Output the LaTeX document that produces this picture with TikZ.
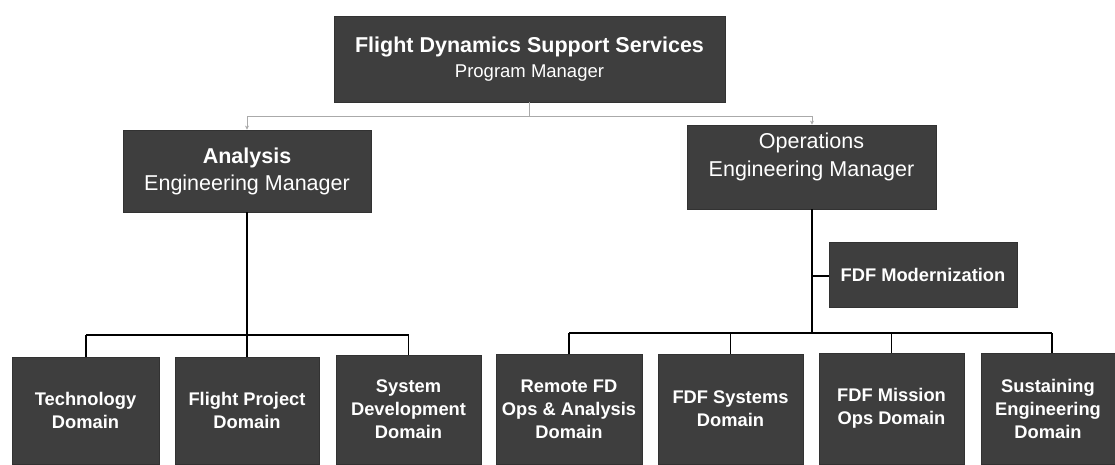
\documentclass[tikz,border=0pt]{standalone}
\usepackage{fontspec}
\setmainfont{Liberation Sans}
\usetikzlibrary{arrows.meta}
\definecolor{boxgray}{RGB}{62,62,62}
\definecolor{linegray}{RGB}{170,170,170}
\begin{document}
\begin{tikzpicture}[x=1pt,y=-1pt,
  box/.style={draw=boxgray!80!black,fill=boxgray,text=white,inner sep=0pt,align=center,
    line width=0.8pt},
  big/.style={font=\fontsize{21.5}{27}\selectfont},
  small/.style={font=\bfseries\fontsize{18.3}{23}\selectfont},
  thinline/.style={draw=linegray,line width=0.8pt},
  thickline/.style={draw=black,line width=1.6pt},
  tip/.style={-{Stealth[length=4pt,width=4pt]}}
]
\useasboundingbox (0,0) rectangle (1115,464);
% top level
\node[box,minimum width=391pt,minimum height=86pt,font=\fontsize{18.5}{25}\selectfont] (top) at (529.5,59)
  {{\bfseries\fontsize{21.5}{25}\selectfont Flight Dynamics Support Services}\\
   Program Manager};
% second level
\node[box,big,minimum width=248pt,minimum height=82pt] (ana) at (247,171)
  {\textbf{Analysis}\\Engineering Manager};
\node[box,big,minimum width=249pt,minimum height=84pt] (ops) at (811.5,167)
  {\raisebox{10pt}[\height][\depth]{\begin{tabular}{@{}c@{}}Operations\\[1pt]Engineering Manager\end{tabular}}};
\node[box,small,minimum width=188pt,minimum height=65pt] (mod) at (923,274.5)
  {FDF Modernization};
% bottom left
\node[box,small,minimum width=147pt,minimum height=107pt] (tech) at (85.5,410.5)
  {Technology\\Domain};
\node[box,small,minimum width=144pt,minimum height=107pt] (fp) at (247,410.5)
  {Flight Project\\Domain};
\node[box,small,minimum width=145pt,minimum height=109pt] (sd) at (408.5,409.5)
  {System\\Development\\Domain};
% bottom right
\node[box,small,minimum width=146pt,minimum height=110pt] (rem) at (569,409)
  {Remote FD\\Ops \& Analysis\\Domain};
\node[box,small,minimum width=145pt,minimum height=110pt] (sys) at (730.5,409)
  {FDF Systems\\Domain};
\node[box,small,minimum width=145pt,minimum height=111pt] (mis) at (891.5,408.5)
  {FDF Mission\\Ops Domain};
\node[box,small,minimum width=134pt,minimum height=111pt] (sus) at (1048,408.5)
  {Sustaining\\Engineering\\Domain};
% coordinates
\coordinate (busT) at (529.5,116);
\coordinate (busTL) at (247,116);
\coordinate (busTR) at (812,116);
\coordinate (busL) at (247,335);
\coordinate (busLa) at (86,335);
\coordinate (busLb) at (408.5,335);
\coordinate (busR) at (812,333);
\coordinate (busRa) at (569,333);
\coordinate (busRb) at (1052,333);
\coordinate (modJ) at (812,276);
% connectors top
\draw[thinline] (top.south) -- (busT);
\draw[thinline] (busTL) -- (busTR);
\draw[thinline,tip] (busTL) -- (ana.north);
\draw[thinline,tip] (busTR) -- (ops.north -| busTR);
% left group
\draw[thickline] (ana.south) -- (busL);
\draw[thickline] (busLa) -- (busLb);
\draw[thickline] (busLa) -- (tech.north -| busLa);
\draw[thickline] (busL) -- (fp.north);
\draw[thickline] (busLb) -- (sd.north -| busLb);
% right group
\draw[thickline] (ops.south -| busR) -- (busR);
\draw[thickline] (modJ) -- (mod.west |- modJ);
\draw[thickline] (busRa) -- (busRb);
\draw[thickline] (busRa) -- (rem.north);
\draw[thickline] (sys.north |- busR) -- (sys.north);
\draw[thickline] (mis.north |- busR) -- (mis.north);
\draw[thickline] (busRb) -- (sus.north -| busRb);
\end{tikzpicture}
\end{document}
